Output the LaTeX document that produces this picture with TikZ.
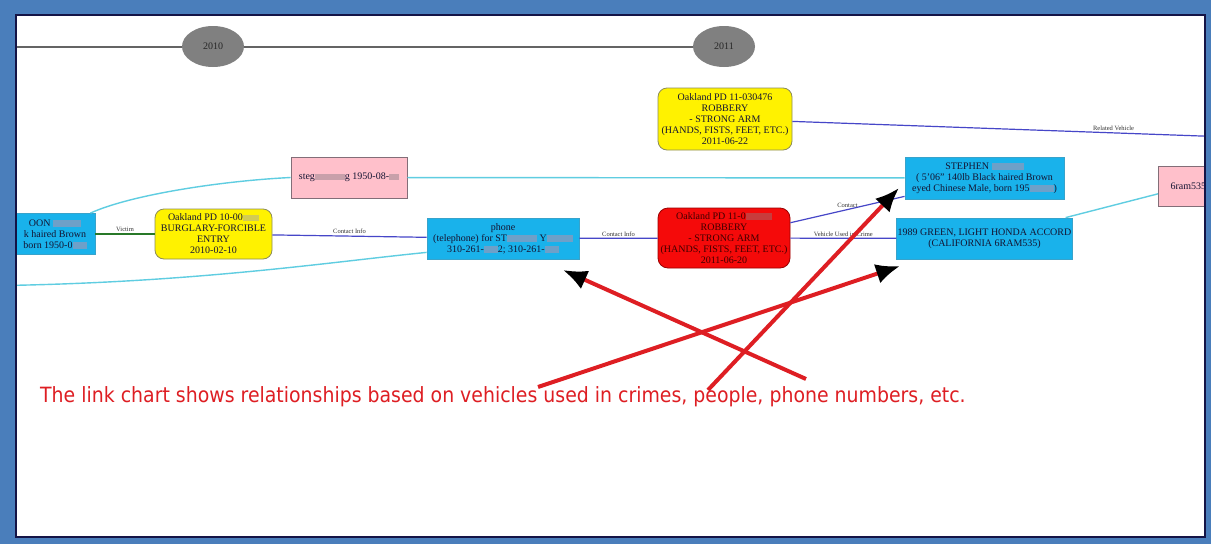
\documentclass[tikz,border=0pt]{standalone}
\usepackage{fontspec}
\setmainfont{Liberation Serif}
\newfontfamily\capfont[FakeStretch=0.9]{DejaVu Sans}
\usetikzlibrary{arrows.meta,shapes.geometric}

\definecolor{framebl}{RGB}{74,126,187}
\definecolor{framenavy}{RGB}{20,20,70}
\definecolor{cyanbox}{RGB}{25,178,235}
\definecolor{pinkbox}{RGB}{255,192,203}
\definecolor{edgeblue}{RGB}{70,70,200}
\definecolor{edgecyan}{RGB}{95,205,225}
\definecolor{edgegreen}{RGB}{40,120,40}
\definecolor{capred}{RGB}{222,30,35}
\definecolor{tlgray}{RGB}{128,128,128}
\definecolor{blurc}{RGB}{110,160,200}
\definecolor{blurp}{RGB}{200,160,170}
\definecolor{blurr}{RGB}{200,60,60}
\definecolor{boxtext}{RGB}{20,20,50}

\newcommand{\blr}[2][blurc]{{\color{#1}\rule[-0.5pt]{#2}{6.5pt}}}

\tikzset{
  gtext/.style={font=\fontsize{10}{11}\selectfont, align=center, inner sep=1pt, text=boxtext},
  ybox/.style={gtext, rectangle, rounded corners=9pt, fill=yellow, draw={rgb,255:red,140;green,140;blue,90}, line width=0.8pt},
  rbox/.style={gtext, rectangle, rounded corners=10pt, fill={rgb,255:red,245;green,10;blue,10}, draw=red!60!black, line width=0.8pt, text=black!75!red},
  cbox/.style={gtext, rectangle, fill=cyanbox, draw=cyanbox!70!gray, line width=0.8pt},
  pbox/.style={gtext, rectangle, fill=pinkbox, draw={rgb,255:red,130;green,110;blue,120}, line width=0.8pt},
  year/.style={ellipse, fill=tlgray, draw=none, minimum width=62pt, minimum height=41pt, inner sep=0pt, font=\fontsize{10}{11}\selectfont, text=black!85},
  timeline/.style={draw={rgb,255:red,100;green,100;blue,100}, line width=2pt},
  eblue/.style={draw=edgeblue, line width=1.2pt},
  ecyan/.style={draw=edgecyan, line width=1.4pt},
  egreen/.style={draw=edgegreen, line width=1.2pt},
  elabel/.style={font=\fontsize{6.5}{7}\selectfont, text=black!80, inner sep=1.5pt, above},
  annot/.style={draw=capred, line width=4pt, -{Latex[length=24pt,width=20pt,color=black]}},
  capstyle/.style={font=\capfont\fontsize{21}{25}\selectfont, text=capred, inner sep=0pt}
}

\begin{document}
\begin{tikzpicture}[x=1pt,y=-1pt]
\fill[framebl] (0,0) rectangle (1211,544);
\useasboundingbox (0,0) rectangle (1211,544);
\fill[white] (16,15) rectangle (1205,537);
\begin{scope}
\clip (16,15) rectangle (1205,537);

% timeline
\node[year] (y2010) at (213,46.5) {2010};
\node[year] (y2011) at (724,46.5) {2011};
\coordinate (tl0) at (5,46.5);
\draw[timeline] (tl0) -- (y2010) -- (y2011);

% nodes
\node[ybox, minimum width=134pt, minimum height=62pt] (rob1) at (725,119)
  {Oakland PD 11-030476\\ROBBERY\\- STRONG ARM\\(HANDS, FISTS, FEET, ETC.)\\2011-06-22};
\node[pbox, minimum width=116pt, minimum height=41pt] (stegm) at (349,177.5)
  {steg\blr[blurp]{30pt}g 1950-08-\blr[blurp]{10pt}};
\node[cbox, minimum width=80pt, minimum height=41pt] (oon) at (55,234)
  {OON \blr{28pt}\\k haired Brown\\born 1950-0\blr{14pt}};
\node[ybox, minimum width=117pt, minimum height=50pt] (burg) at (213.5,234)
  {Oakland PD 10-00\blr[yellow!60!gray]{16pt}\\BURGLARY-FORCIBLE\\ENTRY\\2010-02-10};
\node[cbox, minimum width=152pt, minimum height=41pt] (phone) at (503,238.5)
  {phone\\(telephone) for ST\blr{30pt} Y\blr{26pt}\\310-261-\blr{14pt}2; 310-261-\blr{14pt}};
\node[rbox, minimum width=132pt, minimum height=60pt] (rob2) at (724,238)
  {Oakland PD 11-0\blr[blurr]{26pt}\\ROBBERY\\- STRONG ARM\\(HANDS, FISTS, FEET, ETC.)\\2011-06-20};
\node[cbox, minimum width=159pt, minimum height=42pt] (steph) at (984.5,178)
  {STEPHEN \blr{32pt}\\( 5'06" 140lb Black haired Brown\\eyed Chinese Male, born 195\blr{24pt})};
\node[cbox, minimum width=175pt, minimum height=41pt] (honda) at (984.5,238.5)
  {1989 GREEN, LIGHT HONDA ACCORD\\(CALIFORNIA 6RAM535)};
\node[pbox, minimum width=60pt, minimum height=40pt, anchor=west] (ram) at (1158,186)
  {6ram535};

% connectors
\coordinate (rv) at (1215,136.5);
\coordinate (lc) at (5,285.5);
\draw[ecyan] ([xshift=-5pt]oon.north east) .. controls (130,195) and (220,181) .. (stegm.west);
\draw[ecyan] (stegm) -- (steph);
\draw[ecyan] (lc) .. controls (200,282) and (330,262) .. ([yshift=7pt]phone.south west);
\draw[egreen] (oon) -- node[elabel]{Victim} (burg);
\draw[eblue] (burg) -- node[elabel]{Contact Info} (phone);
\draw[eblue] (phone) -- node[elabel]{Contact Info} (rob2);
\draw[eblue] (rob2) -- node[elabel]{Contact} (steph);
\draw[eblue] (rob2) -- node[elabel]{Vehicle Used in Crime} (honda);
\draw[eblue] (rob1) -- node[elabel, pos=0.76]{Related Vehicle} (rv);
\draw[ecyan] (honda) -- (ram);

% annotation
\node[capstyle, anchor=base west] (cap) at (40,402)
  {The link chart shows relationships based on vehicles used in crimes, people, phone numbers, etc.};
\coordinate (a1s) at (806,379);
\coordinate (a1e) at (563,270);
\coordinate (a2s) at (538,387);
\coordinate (a2e) at (900,266);
\coordinate (a3s) at (708,390);
\coordinate (a3e) at (899,188);
\draw[annot] (a1s) -- (a1e);
\draw[annot] (a2s) -- (a2e);
\draw[annot] (a3s) -- (a3e);
\end{scope}
\draw[framenavy, line width=1.5pt] (16,15) rectangle (1205,537);
\end{tikzpicture}
\end{document}
